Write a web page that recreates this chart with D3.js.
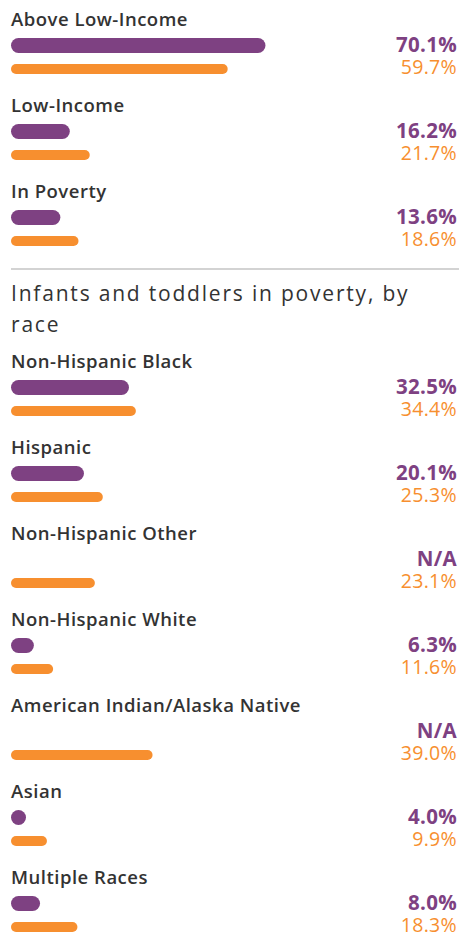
<!DOCTYPE html>
<html>
<head>
<meta charset="utf-8">
<script src="https://cdn.jsdelivr.net/npm/d3@7"></script>
<style>
  html, body { margin: 0; padding: 0; background: #fff; }
  svg { display: block; }
</style>
</head>
<body>
<svg id="chart" width="459" height="932"></svg>
<script>
// ---- data ----
const incomeCategories = ["Above Low-Income", "Low-Income", "In Poverty"];
const incomePurple = [70.1, 16.2, 13.6];
const incomeOrange = [59.7, 21.7, 18.6];

const raceHeading = "Infants and toddlers in poverty, by race";
const raceCategories = ["Non-Hispanic Black", "Hispanic", "Non-Hispanic Other", "Non-Hispanic White",
  "American Indian/Alaska Native", "Asian", "Multiple Races"];
const racePurple = [32.5, 20.1, null, 6.3, null, 4.0, 8.0];
const raceOrange = [34.4, 25.3, 23.1, 11.6, 39.0, 9.9, 18.3];

// ---- styles ----
const PURPLE = "#7e4182";
const ORANGE = "#f78f2f";
const TEXT = "#333333";
const FONT = "'Open Sans', 'Noto Sans', sans-serif";

const svg = d3.select("#chart");
const W = 459;
const left = 11, right = 457;

const x = d3.scaleLinear().domain([0, 100]).range([0, 363]);

function group(categories, purple, orange, startY) {
  const rows = categories.map((c, i) => ({ c, p: purple[i], o: orange[i], i }));
  const g = svg.append("g");
  const row = g.selectAll("g.row").data(rows).join("g")
    .attr("class", "row")
    .attr("transform", d => `translate(0,${startY + d.i * 86})`);

  row.append("text")
    .attr("x", left).attr("y", 0)
    .attr("font-family", FONT).attr("font-size", 18.5).attr("font-weight", 600)
    .attr("letter-spacing", 0.5)
    .attr("fill", TEXT)
    .text(d => d.c);

  row.filter(d => d.p != null).append("rect")
    .attr("x", left).attr("y", 12)
    .attr("width", d => Math.max(x(d.p), 15)).attr("height", 15)
    .attr("rx", 7.5).attr("ry", 7.5)
    .attr("fill", PURPLE);

  row.append("rect")
    .attr("x", left).attr("y", 38)
    .attr("width", d => Math.max(x(d.o), 10)).attr("height", 10)
    .attr("rx", 5).attr("ry", 5)
    .attr("fill", ORANGE);

  row.append("text")
    .attr("x", right).attr("y", 26)
    .attr("text-anchor", "end")
    .attr("font-family", FONT).attr("font-size", 20.5).attr("font-weight", 700)
    .attr("letter-spacing", 0.3)
    .attr("fill", PURPLE)
    .text(d => d.p == null ? "N/A" : d.p.toFixed(1) + "%");

  row.append("text")
    .attr("x", right).attr("y", 47.5)
    .attr("text-anchor", "end")
    .attr("font-family", FONT).attr("font-size", 19.5).attr("font-weight", 500)
    .attr("letter-spacing", 0.3)
    .attr("fill", ORANGE)
    .text(d => d.o.toFixed(1) + "%");
}

group(incomeCategories, incomePurple, incomeOrange, 26);

svg.append("line")
  .attr("x1", left).attr("x2", W).attr("y1", 269).attr("y2", 269)
  .attr("stroke", "#d3d3d3").attr("stroke-width", 2);

// heading wrapped to width
const heading = svg.append("text")
  .attr("font-family", FONT).attr("font-size", 21).attr("font-weight", 400)
  .attr("letter-spacing", 1.8)
  .attr("fill", TEXT);
(function wrap() {
  const words = raceHeading.split(" ");
  let line = [], lines = [];
  const tmp = heading.append("tspan");
  words.forEach(w => {
    const test = line.concat(w).join(" ");
    tmp.text(test);
    if (tmp.node().getComputedTextLength() > 420 && line.length) {
      lines.push(line.join(" "));
      line = [w];
    } else line.push(w);
  });
  lines.push(line.join(" "));
  tmp.remove();
  lines.forEach((l, i) => heading.append("tspan").attr("x", left).attr("y", 300.5 + i * 31.5).text(l));
})();

group(raceCategories, racePurple, raceOrange, 368);
</script>
</body>
</html>
